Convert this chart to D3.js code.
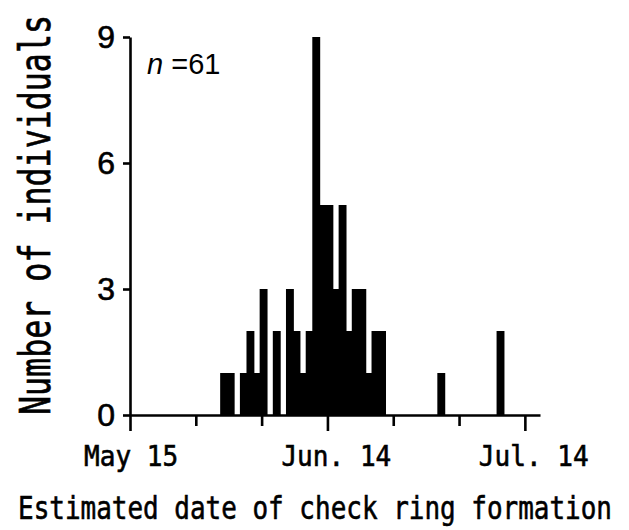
<!DOCTYPE html>
<html>
<head>
<meta charset="utf-8">
<script src="https://cdn.jsdelivr.net/npm/d3@7"></script>
<style>
  body { margin: 0; background: #fff; }
  svg { display: block; }
</style>
</head>
<body>
<div id="chart"></div>
<script>
// Histogram: estimated date of check ring formation (days after May 15)

const binDays   = [14, 15, 16, 17, 18, 19, 20, 21, 22, 23, 24, 25, 26, 27, 28, 29, 30, 31, 32, 33, 34, 35, 36, 37, 38, 47, 56];
const binCounts = [ 1,  1,  0,  1,  2,  1,  3,  0,  2,  0,  3,  2,  1,  2,  9,  5,  5,  3,  5,  2,  3,  3,  1,  2,  2,  1,  2];

const xTickDays   = [0, 10, 20, 30, 40, 50, 60];
const xMajorDays  = [0, 30, 60];
const xTickLabels = ["May 15", "Jun. 14", "Jul. 14"];
const yTicks      = [0, 3, 6, 9];
const sampleSize  = 61;

(function() {
    const width = 629, height = 530;

    const svg = d3.select("#chart")
        .append("svg")
        .attr("width", width)
        .attr("height", height);

    const bins = binDays.map((d, i) => ({day: d, count: binCounts[i]}));

    // X scale (days after May 15); axis runs a little past Jul. 14
    const x = d3.scaleLinear()
        .domain([0, 62.3])
        .range([130, 540]);

    // Y scale (count)
    const y = d3.scaleLinear()
        .domain([0, 9])
        .range([415, 37]);

    // Bars, taller ones drawn last
    svg.append("g")
        .selectAll("rect")
        .data(bins.filter(d => d.count > 0).sort((a, b) => a.count - b.count))
        .enter()
        .append("rect")
        .attr("x", d => x(d.day - 0.3))
        .attr("width", d => x(d.day + 0.9) - x(d.day - 0.3))
        .attr("y", d => y(d.count))
        .attr("height", d => y(0) - y(d.count))
        .attr("fill", "#000");

    // X axis
    const xAxis = svg.append("g")
        .attr("transform", `translate(0,${y(0)})`)
        .call(d3.axisBottom(x).tickValues(xTickDays).tickSize(10).tickSizeOuter(0).tickFormat(""));
    xAxis.selectAll(".tick line")
        .attr("y2", d => xMajorDays.includes(d) ? 16 : 11);

    // Y axis
    const yAxis = svg.append("g")
        .attr("transform", `translate(${x(0)},0)`)
        .call(d3.axisLeft(y).tickValues(yTicks).tickSize(7).tickSizeOuter(0).tickPadding(8));
    yAxis.selectAll("text")
        .attr("font-family", "'Liberation Sans', Arial, sans-serif")
        .attr("font-size", 32)
        .attr("fill", "#000")
        .attr("stroke", "#000")
        .attr("stroke-width", 0.6);

    svg.selectAll(".domain, .tick line")
        .attr("stroke", "#000")
        .attr("stroke-width", 2.6);

    const mono = "'DejaVu Sans Mono', 'Liberation Mono', monospace";

    // Date labels under the major ticks
    svg.append("g")
        .selectAll("text")
        .data(xMajorDays)
        .enter()
        .append("text")
        .attr("x", d => x(d) - 46)
        .attr("y", 466)
        .attr("font-family", mono)
        .attr("font-size", 28)
        .attr("stroke", "#000")
        .attr("stroke-width", 0.6)
        .attr("textLength", (d, i) => xTickLabels[i].length * 15.7)
        .attr("lengthAdjust", "spacingAndGlyphs")
        .text((d, i) => xTickLabels[i]);

    // Axis titles
    svg.append("text")
        .attr("x", 18)
        .attr("y", 519)
        .attr("font-family", mono)
        .attr("font-size", 32)
        .attr("stroke", "#000")
        .attr("stroke-width", 0.6)
        .attr("textLength", 594)
        .attr("lengthAdjust", "spacingAndGlyphs")
        .text("Estimated date of check ring formation");

    svg.append("text")
        .attr("transform", "translate(50,215) rotate(-90)")
        .attr("text-anchor", "middle")
        .attr("font-family", mono)
        .attr("font-size", 42)
        .attr("stroke", "#000")
        .attr("stroke-width", 0.7)
        .attr("textLength", 400)
        .attr("lengthAdjust", "spacingAndGlyphs")
        .text("Number of individuals");

    // Sample size
    const nText = svg.append("text")
        .attr("x", 147)
        .attr("y", 74)
        .attr("font-family", "'Liberation Sans', Arial, sans-serif")
        .attr("font-size", 29);
    nText.append("tspan").attr("font-style", "italic").text("n");
    nText.append("tspan").text(" =" + sampleSize);
})();
</script>
</body>
</html>
